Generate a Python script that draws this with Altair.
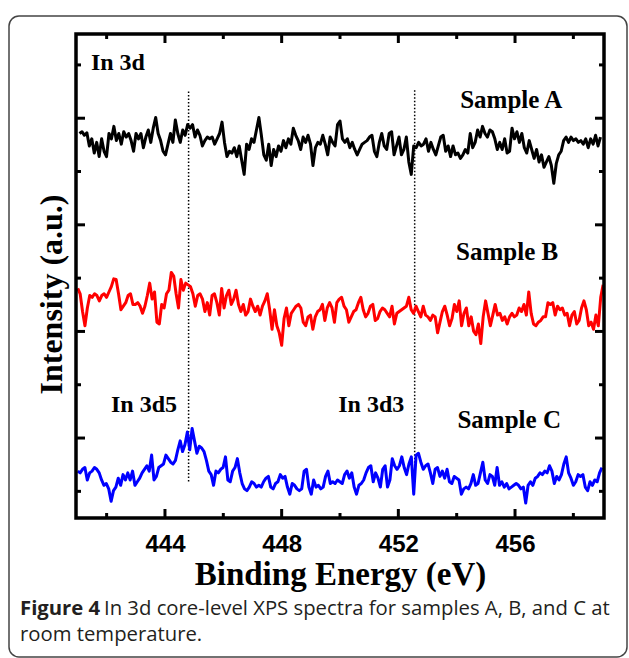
import altair as alt
import numpy as np
import pandas as pd

# ---------------- data ----------------
samples = ["Sample A", "Sample B", "Sample C"]
colors = ["#000000", "#ff0000", "#0000ff"]
# vertical offsets used to stack the spectra (a.u.)
offsets = [857, 406, -38]
# first / last binding energy of each scan (eV)
e_start = [441.07, 441.01, 441.01]
e_end = [458.93, 459.02, 458.98]

counts_a = [150,155,145,152,115,135,95,125,85,135,100,85,150,135,170,130,150,120,155,140,150,130,100,150,135,150,110,140,160,125,
            165,195,150,130,100,90,120,150,125,188,150,125,160,145,175,165,175,140,160,145,115,130,140,135,140,120,135,150,182,125,
            85,100,95,110,85,115,75,35,120,105,135,125,160,195,145,90,75,120,60,105,85,115,100,130,110,135,120,165,145,130,
            105,140,125,145,120,60,110,125,120,145,120,90,140,125,115,175,185,135,125,135,110,125,105,90,105,120,125,130,140,145,
            100,85,125,150,115,105,150,155,90,115,140,90,105,140,70,35,115,110,125,115,120,135,100,125,105,90,115,140,145,100,
            115,85,115,90,95,80,90,105,95,150,110,125,160,140,170,150,140,160,155,135,105,125,105,135,95,100,165,135,155,125,
            150,110,95,130,105,80,105,70,90,55,70,85,60,10,65,90,100,130,140,125,140,130,135,125,130,120,135,110,135,120,145,115,140]

counts_b = [165,150,100,60,110,145,140,150,145,130,145,150,140,155,170,192,190,150,105,115,125,145,150,120,120,125,115,95,115,145,
            180,135,155,70,65,120,110,150,160,210,200,150,110,190,160,180,175,170,150,115,145,150,135,100,125,90,145,150,125,90,
            165,110,145,160,120,135,160,120,100,120,90,100,135,115,100,115,90,115,130,150,105,50,105,60,40,5,80,110,60,95,
            105,115,120,110,70,60,85,90,50,85,100,105,120,75,110,125,110,70,125,135,140,115,105,70,85,100,105,125,140,105,
            85,95,115,120,75,80,100,110,105,95,85,115,65,95,100,105,110,115,140,105,95,115,100,85,115,90,85,75,90,85,
            40,70,100,115,90,60,80,120,100,130,60,95,110,60,85,45,35,65,10,85,130,95,60,90,120,90,95,75,85,65,
            85,95,85,90,110,100,120,90,155,95,65,60,70,75,85,85,125,120,125,90,115,105,110,90,95,60,90,100,65,75,
            110,130,105,60,70,50,90,60,140,175]

counts_c = [95,90,100,105,70,90,95,105,100,90,70,55,60,45,10,40,50,75,55,85,70,90,70,95,55,65,75,90,100,110,
            95,140,70,80,105,110,115,140,130,120,115,125,155,180,150,170,205,155,215,180,145,165,160,150,125,95,85,55,95,90,
            100,105,135,70,65,95,105,130,90,60,45,40,50,65,60,50,55,50,65,75,80,50,45,60,65,85,75,80,50,30,
            60,55,45,40,45,95,100,50,30,70,50,55,45,50,80,95,60,65,60,70,65,60,85,95,75,90,50,30,55,60,
            70,90,105,110,65,90,75,50,100,110,50,70,130,110,100,110,135,105,85,115,135,30,140,145,120,100,110,115,90,60,
            100,105,80,95,75,100,65,60,80,75,70,30,45,50,45,60,85,55,60,90,120,70,60,85,80,55,105,55,65,50,
            60,45,50,55,60,55,45,50,5,55,65,55,75,80,90,85,95,90,110,95,60,80,70,85,115,135,90,75,55,65,
            85,80,85,50,40,65,55,70,65,90,105]

# reference lines (In 3d5 / In 3d3 positions)
ref_energy = [444.81, 452.56]
ref_low = [28, 41]
ref_high = [1131, 1134]

# text annotations
label_text = ["In 3d", "Sample A", "Sample B", "Sample C", "In 3d5", "In 3d3"]
label_energy = [441.46, 455.87, 455.73, 455.80, 443.28, 451.07]
label_intensity = [1187, 1078, 650, 177, 222, 222]
label_align = ["left", "center", "center", "center", "center", "center"]
label_size = [24, 25, 25, 25, 24, 24]

# axis ticks
x_major = [444, 448, 452, 456]
x_minor = [442, 446, 450, 454, 458]
y_major = [150, 450, 750, 1050]
y_minor = [0, 300, 600, 900, 1200]

caption_bold = "Figure 4"
caption_line1 = "In 3d core-level XPS spectra for samples A, B, and C at"
caption_line2 = "room temperature."

# ---------------- build tables ----------------
rows = []
for name, cts, off, e0, e1 in zip(samples, [counts_a, counts_b, counts_c], offsets, e_start, e_end):
    energy = np.linspace(e0, e1, len(cts))
    for e, c in zip(energy, cts):
        rows.append({"sample": name, "energy": float(e), "intensity": c + off})
spec = pd.DataFrame(rows)

refs = pd.DataFrame({"energy": ref_energy, "intensity": ref_low, "intensity2": ref_high})
labels = pd.DataFrame({"energy": label_energy, "intensity": label_intensity,
                       "label": label_text, "align": label_align, "size": label_size})
xmaj = pd.DataFrame({"energy": x_major})
xmin = pd.DataFrame({"energy": x_minor})
ymaj = pd.DataFrame({"intensity": y_major})
ymin = pd.DataFrame({"intensity": y_minor})
one = pd.DataFrame({"k": [0]})

W, H = 528, 484
xs = alt.Scale(domain=[440.95, 459.05], nice=False, zero=False)
ys = alt.Scale(domain=[-75, 1287], nice=False, zero=False)

serif = "Liberation Serif"

lines = alt.Chart(spec).mark_line(strokeWidth=3, strokeJoin="round").encode(
    x=alt.X("energy:Q", scale=xs,
            axis=alt.Axis(values=x_major, format="d", labelFont="Liberation Sans",
                          labelFontWeight="bold", labelFontSize=24, labelColor="black",
                          ticks=False, domain=False, grid=False, labelPadding=14,
                          title="Binding Energy (eV)", titleFont=serif, titleFontSize=33,
                          titleFontWeight="bold", titleColor="black", titlePadding=2)),
    y=alt.Y("intensity:Q", scale=ys,
            axis=alt.Axis(labels=False, ticks=False, domain=False, grid=False,
                          title="Intensity (a.u.)", titleFont=serif, titleFontSize=32,
                          titleFontWeight="bold", titleColor="black", titlePadding=8,
                          titleY=260)),
    color=alt.Color("sample:N", scale=alt.Scale(domain=samples, range=colors), legend=None),
    detail="sample:N",
)

dotted = alt.Chart(refs).mark_rule(color="black", strokeWidth=1.5, strokeDash=[1.5, 2]).encode(
    x="energy:Q", y="intensity:Q", y2="intensity2:Q")

text_left = alt.Chart(labels[labels["align"] == "left"]).mark_text(
    font=serif, fontWeight="bold", align="left", baseline="alphabetic", color="black"
).encode(x="energy:Q", y="intensity:Q", text="label:N", size=alt.Size("size:Q", scale=None, legend=None))
text_center = alt.Chart(labels[labels["align"] == "center"]).mark_text(
    font=serif, fontWeight="bold", align="center", baseline="alphabetic", color="black"
).encode(x="energy:Q", y="intensity:Q", text="label:N", size=alt.Size("size:Q", scale=None, legend=None))

tick_style = dict(color="black", strokeWidth=3)
t_top_maj = alt.Chart(xmaj).mark_rule(**tick_style).encode(x="energy:Q", y=alt.value(0), y2=alt.value(9))
t_top_min = alt.Chart(xmin).mark_rule(**tick_style).encode(x="energy:Q", y=alt.value(0), y2=alt.value(5))
t_bot_maj = alt.Chart(xmaj).mark_rule(**tick_style).encode(x="energy:Q", y=alt.value(H - 9), y2=alt.value(H))
t_bot_min = alt.Chart(xmin).mark_rule(**tick_style).encode(x="energy:Q", y=alt.value(H - 5), y2=alt.value(H))
t_l_maj = alt.Chart(ymaj).mark_rule(**tick_style).encode(y="intensity:Q", x=alt.value(0), x2=alt.value(9))
t_l_min = alt.Chart(ymin).mark_rule(**tick_style).encode(y="intensity:Q", x=alt.value(0), x2=alt.value(5))
t_r_maj = alt.Chart(ymaj).mark_rule(**tick_style).encode(y="intensity:Q", x=alt.value(W - 9), x2=alt.value(W))
t_r_min = alt.Chart(ymin).mark_rule(**tick_style).encode(y="intensity:Q", x=alt.value(W - 5), x2=alt.value(W))

# plot border drawn as a rule frame on top of the data
border = alt.Chart(one).mark_rect(fillOpacity=0, stroke="black", strokeWidth=3.5).encode(
    x=alt.value(0), x2=alt.value(W), y=alt.value(0), y2=alt.value(H))

frame = alt.Chart(one).mark_rect(fillOpacity=0, stroke="#444444", strokeWidth=1.5, cornerRadius=10).encode(
    x=alt.value(-67), x2=alt.value(551), y=alt.value(-18), y2=alt.value(623))

cap_font = "Open Sans"
cap_size = 20.3
cap1 = alt.Chart(one).mark_text(font=cap_font, fontWeight="bold", fontSize=cap_size, align="left",
                                baseline="alphabetic", color="#231f20").encode(
    x=alt.value(-56), y=alt.value(581), text=alt.value(caption_bold))
cap2 = alt.Chart(one).mark_text(font=cap_font, fontSize=cap_size, align="left",
                                baseline="alphabetic", color="#231f20").encode(
    x=alt.value(28), y=alt.value(581), text=alt.value(caption_line1))
cap3 = alt.Chart(one).mark_text(font=cap_font, fontSize=cap_size, align="left",
                                baseline="alphabetic", color="#231f20").encode(
    x=alt.value(-56), y=alt.value(607), text=alt.value(caption_line2))

chart = alt.layer(
    frame, dotted, lines, text_left, text_center, border,
    t_top_maj, t_top_min, t_bot_maj, t_bot_min, t_l_maj, t_l_min, t_r_maj, t_r_min,
    cap1, cap2, cap3,
).properties(
    width=W, height=H,
    background="white",
    autosize=alt.AutoSizeParams(type="none"),
    padding={"left": 76, "top": 34, "right": 25, "bottom": 140},
).configure_view(stroke=None)

chart.save("out.html", embed_options={"renderer": "svg", "actions": False})
